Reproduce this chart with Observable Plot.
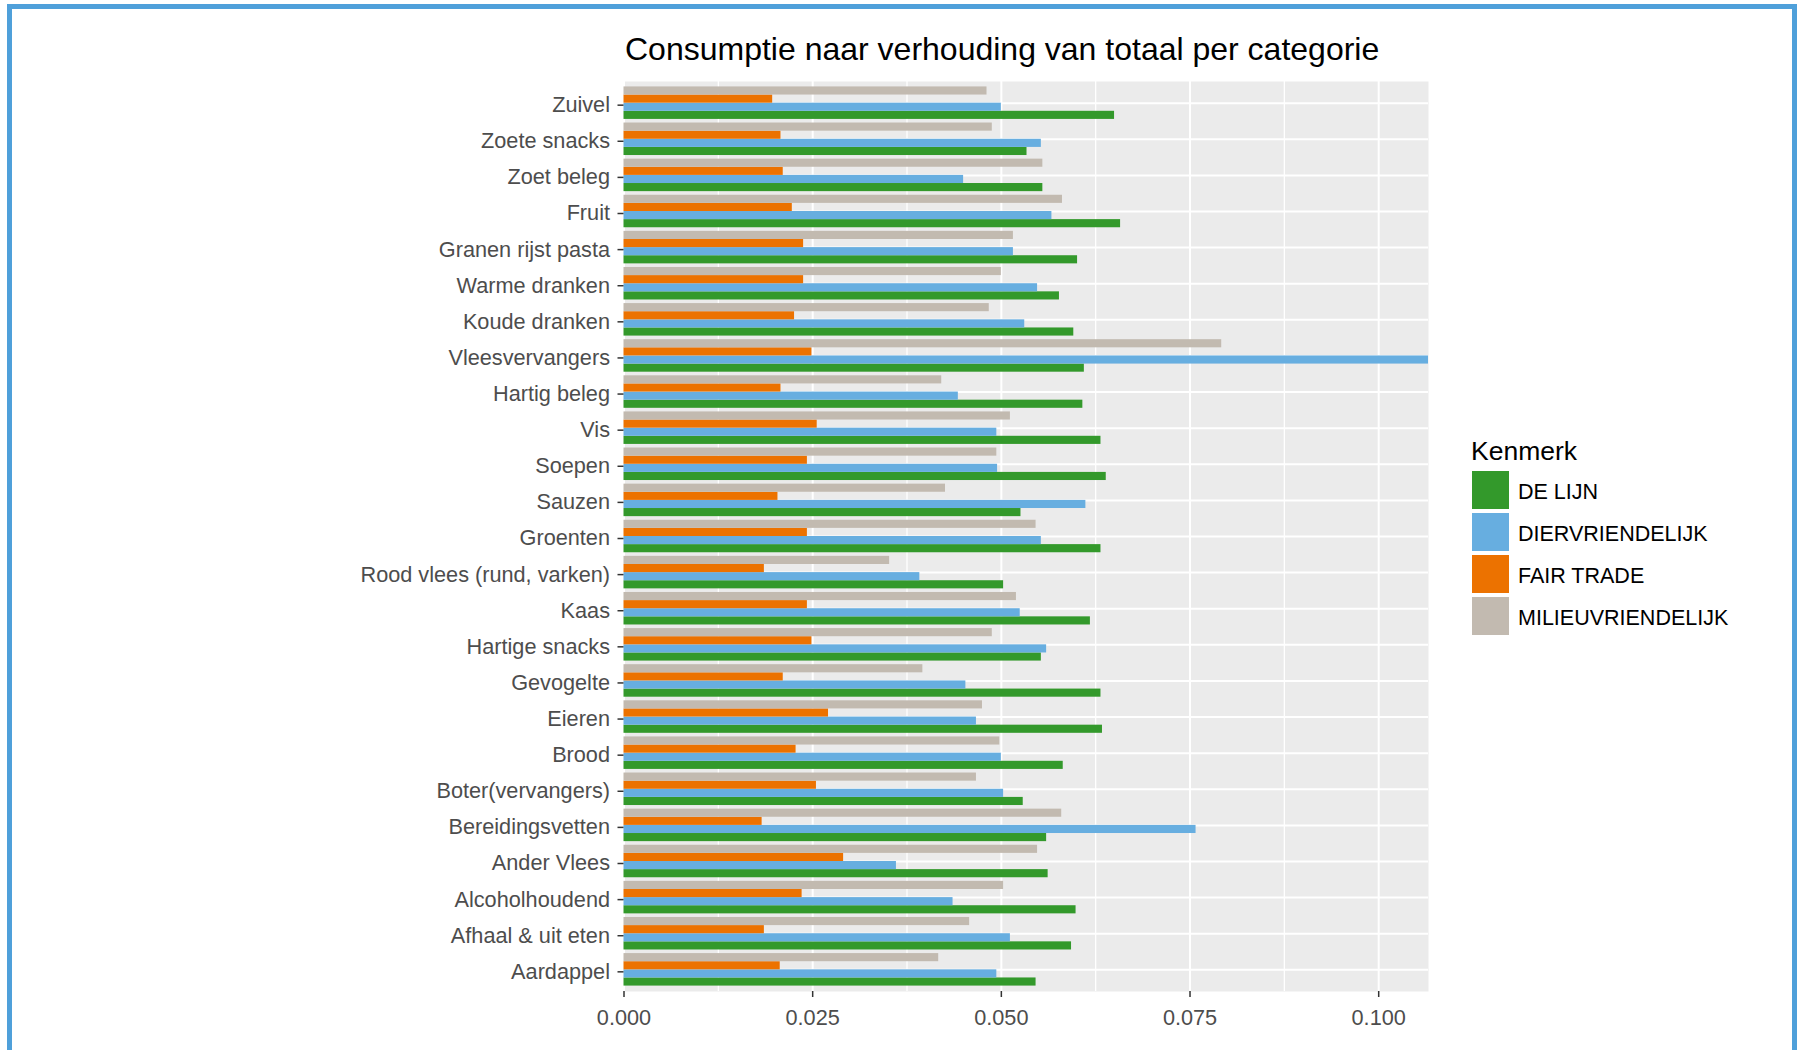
<!DOCTYPE html>
<html>
<head>
<meta charset="utf-8">
<script src="https://cdn.jsdelivr.net/npm/d3@7"></script>
<script src="https://cdn.jsdelivr.net/npm/@observablehq/plot@0.6"></script>
<style>
  html, body { margin: 0; padding: 0; background: #fff; }
  body { width: 1800px; height: 1050px; overflow: hidden; position: relative; font-family: "Liberation Sans", Arial, sans-serif; }
  #frame { position: absolute; left: 7px; top: 4px; width: 1780px; height: 1100px; border: 5px solid #4fa0da; border-bottom: none; box-sizing: content-box; }
  #chart { position: absolute; left: 0; top: 0; }
  #title { position: absolute; left: 625px; top: 33px; font-size: 32px; line-height: 32px; color: #000; white-space: nowrap; }
  #legend-title { position: absolute; left: 1471px; top: 437.5px; font-size: 26.5px; line-height: 26.5px; color: #000; white-space: nowrap; }
  .key { position: absolute; left: 1472px; width: 37px; height: 38px; }
  .key-label { position: absolute; left: 1518px; height: 38px; line-height: 38px; font-size: 21.5px; color: #000; white-space: nowrap; }
</style>
</head>
<body>
<div id="frame"></div>
<div id="chart"></div>
<div id="title">Consumptie naar verhouding van totaal per categorie</div>
<div id="legend-title">Kenmerk</div>
<div id="legend"></div>
<script>
// ---- Data (top-to-bottom order as shown) ----
const categories = [
  "Zuivel", "Zoete snacks", "Zoet beleg", "Fruit", "Granen rijst pasta",
  "Warme dranken", "Koude dranken", "Vleesvervangers", "Hartig beleg", "Vis",
  "Soepen", "Sauzen", "Groenten", "Rood vlees (rund, varken)", "Kaas",
  "Hartige snacks", "Gevogelte", "Eieren", "Brood", "Boter(vervangers)",
  "Bereidingsvetten", "Ander Vlees", "Alcoholhoudend", "Afhaal & uit eten", "Aardappel"
];
const seriesNames = ["DE LIJN", "DIERVRIENDELIJK", "FAIR TRADE", "MILIEUVRIENDELIJK"];
const seriesColors = ["#33992b", "#67aee0", "#ec7200", "#c2bab0"];

const deLijn = [0.0650, 0.0534, 0.0555, 0.0658, 0.0601, 0.0577, 0.0596, 0.0610, 0.0608, 0.0632,
  0.0639, 0.0526, 0.0632, 0.0503, 0.0618, 0.0553, 0.0632, 0.0634, 0.0582, 0.0529,
  0.0560, 0.0562, 0.0599, 0.0593, 0.0546];
const dierVriendelijk = [0.0500, 0.0553, 0.0450, 0.0567, 0.0516, 0.0548, 0.0531, 0.1100, 0.0443, 0.0494,
  0.0495, 0.0612, 0.0553, 0.0392, 0.0525, 0.0560, 0.0453, 0.0467, 0.0500, 0.0503,
  0.0758, 0.0361, 0.0436, 0.0512, 0.0494];
const fairTrade = [0.0197, 0.0208, 0.0211, 0.0223, 0.0238, 0.0238, 0.0226, 0.0249, 0.0208, 0.0256,
  0.0243, 0.0204, 0.0243, 0.0186, 0.0243, 0.0249, 0.0211, 0.0271, 0.0228, 0.0255,
  0.0183, 0.0291, 0.0236, 0.0186, 0.0207];
const milieuVriendelijk = [0.0481, 0.0488, 0.0555, 0.0581, 0.0516, 0.0500, 0.0484, 0.0792, 0.0421, 0.0512,
  0.0494, 0.0426, 0.0546, 0.0352, 0.0520, 0.0488, 0.0396, 0.0475, 0.0498, 0.0467,
  0.0580, 0.0548, 0.0503, 0.0458, 0.0417];

const xTicks = [0, 0.025, 0.05, 0.075, 0.1];
const xMinorTicks = [0.0125, 0.0375, 0.0625, 0.0875];
const xDomain = [0, 0.1066];

// ---- Build long table ----
const seriesValues = [deLijn, dierVriendelijk, fairTrade, milieuVriendelijk];
const rows = [];
categories.forEach((c, i) => seriesNames.forEach((s, j) => rows.push({category: c, series: s, value: seriesValues[j][i]})));

// ---- Layout ----
const W = 1800, H = 1050;
const mL = 623.5, mR = 372, mT = 81, mB = 59;
const padInner = 0.1, padOuter = 0.15;
const step = (H - mT - mB) / (categories.length - padInner + 2 * padOuter);
const q = (1 - padInner) * step / seriesNames.length; // dodge slot height

const n = seriesNames.length;
const barMarks = seriesNames.map((s, j) =>
  Plot.barX(rows.filter(r => r.series === s), {
    x: "value", y: "category", fill: "series",
    insetTop: (n - 1 - j) * q, insetBottom: j * q
  })
);

const chart = Plot.plot({
  width: W, height: H,
  marginLeft: mL, marginRight: mR, marginTop: mT, marginBottom: mB,
  style: {fontFamily: "'Liberation Sans', Arial, sans-serif", background: "transparent", overflow: "visible"},
  x: {domain: xDomain, clamp: true},
  y: {domain: categories, paddingInner: padInner, paddingOuter: padOuter, round: false},
  color: {domain: seriesNames, range: seriesColors},
  marks: [
    Plot.frame({fill: "#ebebeb", stroke: "none"}),
    Plot.gridX({ticks: xMinorTicks, stroke: "#fff", strokeOpacity: 1, strokeWidth: 1.3}),
    Plot.gridX({ticks: xTicks, stroke: "#fff", strokeOpacity: 1, strokeWidth: 2}),
    Plot.gridY({stroke: "#fff", strokeOpacity: 1, strokeWidth: 2}),
    ...barMarks,
    Plot.axisY({tickSize: 6, tickPadding: 8, fontSize: 21.7, stroke: "#333", strokeWidth: 1.5, fill: "#4d4d4d", label: null, dy: 2}),
    Plot.axisX({ticks: xTicks, tickFormat: d3.format(".3f"), tickSize: 6, tickPadding: 12, fontSize: 21.7,
      stroke: "#333", strokeWidth: 1.5, fill: "#4d4d4d", label: null})
  ]
});
document.getElementById("chart").appendChild(chart);

// ---- Legend ----
const legend = document.getElementById("legend");
seriesNames.forEach((s, i) => {
  const top = 471 + i * 42;
  const key = document.createElement("div");
  key.className = "key";
  key.style.top = top + "px";
  key.style.background = seriesColors[i];
  legend.appendChild(key);
  const lab = document.createElement("div");
  lab.className = "key-label";
  lab.style.top = (top + 2) + "px";
  lab.textContent = s;
  legend.appendChild(lab);
});
</script>
</body>
</html>
